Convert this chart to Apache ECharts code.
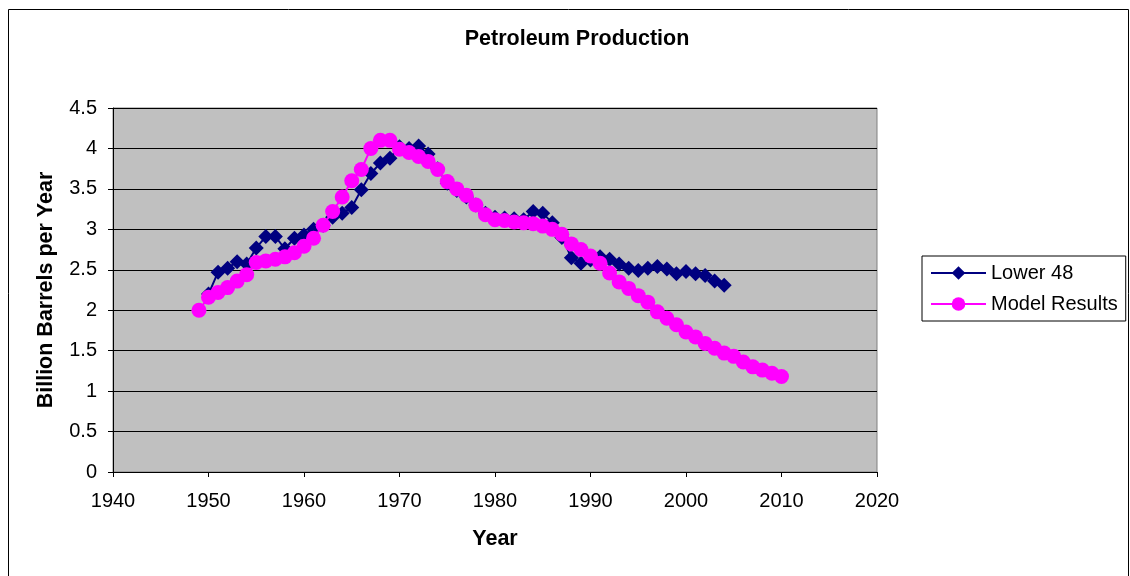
<!DOCTYPE html>
<html>
<head>
<meta charset="utf-8">
<script src="https://cdn.jsdelivr.net/npm/echarts@6/dist/echarts.min.js"></script>
<style>
html,body{margin:0;padding:0;background:#fff;}
#chart{width:1130px;height:576px;}
</style>
</head>
<body>
<div id="chart"></div>
<script>
const lower48Start = 1950;
const lower48Values = [
  2.2, 2.47, 2.52, 2.6, 2.57, 2.77, 2.91, 2.91, 2.76, 2.89,
  2.93, 3.0, 3.05, 3.15, 3.2, 3.27, 3.49, 3.69, 3.82, 3.88,
  4.02, 4.0, 4.03, 3.93, 3.75, 3.57, 3.48, 3.4, 3.3, 3.2,
  3.15, 3.14, 3.13, 3.12, 3.22, 3.2, 3.08, 2.9, 2.65, 2.58,
  2.62, 2.66, 2.63, 2.57, 2.52, 2.49, 2.52, 2.54, 2.51, 2.45,
  2.48, 2.45, 2.43, 2.36, 2.31
];
const modelStart = 1949;
const modelValues = [
  2.0,
  2.16, 2.22, 2.28, 2.36, 2.44, 2.59, 2.61, 2.63, 2.66, 2.71,
  2.79, 2.89, 3.05, 3.22, 3.4, 3.6, 3.74, 4.0, 4.1, 4.1,
  3.99, 3.95, 3.9, 3.84, 3.74, 3.59, 3.5, 3.42, 3.3, 3.18,
  3.12, 3.11, 3.09, 3.08, 3.07, 3.04, 3.0, 2.94, 2.82, 2.75,
  2.67, 2.58, 2.46, 2.35, 2.27, 2.18, 2.1, 1.98, 1.9, 1.82,
  1.73, 1.67, 1.59, 1.53, 1.47, 1.43, 1.36, 1.3, 1.26, 1.22,
  1.18
];
const xTicks = { min: 1940, max: 2020, step: 10 };
const yTicks = { min: 0, max: 4.5, step: 0.5 };

const toPairs = (start, vals) => vals.map((v, i) => [start + i, v]);
const FONT = 'Arial, "Liberation Sans", sans-serif';

const chart = echarts.init(document.getElementById('chart'), null, { renderer: 'canvas' });
chart.setOption({
  animation: false,
  backgroundColor: '#ffffff',
  graphic: [{
    type: 'rect', left: 6, top: 7, shape: { width: 1120, height: 580 },
    style: { fill: 'none', stroke: '#000', lineWidth: 1 }, silent: true, z: -1
  }],
  title: {
    text: 'Petroleum Production', left: 572, top: 23, textAlign: 'center',
    textStyle: { fontFamily: FONT, fontWeight: 'bold', fontSize: 21.5, color: '#000' }
  },
  grid: {
    left: 113, top: 108, width: 764, height: 364, show: true,
    backgroundColor: '#C0C0C0', borderColor: '#808080', borderWidth: 1
  },
  legend: {
    orient: 'vertical', left: 922, top: 256, padding: [7, 8, 7, 8], itemGap: 11,
    itemWidth: 55, itemHeight: 17, backgroundColor: '#fff', borderColor: '#000', borderWidth: 1,
    textStyle: { fontFamily: FONT, fontSize: 20, lineHeight: 20, color: '#000' },
    data: ['Lower 48', 'Model Results']
  },
  xAxis: {
    type: 'value', min: xTicks.min, max: xTicks.max, interval: xTicks.step,
    name: 'Year', nameLocation: 'middle', nameGap: 56,
    nameTextStyle: { fontFamily: FONT, fontWeight: 'bold', fontSize: 21.5, color: '#000' },
    axisLine: { show: true, onZero: false, lineStyle: { color: '#000', width: 1 } },
    axisTick: { show: true, length: 5, lineStyle: { color: '#000' } },
    axisLabel: { fontFamily: FONT, fontSize: 20, color: '#000', margin: 19, formatter: v => String(v) },
    splitLine: { show: false }
  },
  yAxis: {
    type: 'value', min: yTicks.min, max: yTicks.max, interval: yTicks.step,
    name: 'Billion Barrels per Year', nameLocation: 'middle', nameGap: 56, nameRotate: 90,
    nameTextStyle: { fontFamily: FONT, fontWeight: 'bold', fontSize: 21.5, color: '#000' },
    axisLine: { show: true, lineStyle: { color: '#000', width: 1 } },
    axisTick: { show: true, length: 5, lineStyle: { color: '#000' } },
    axisLabel: { fontFamily: FONT, fontSize: 20, color: '#000', margin: 16 },
    splitLine: { show: true, lineStyle: { color: '#000', width: 1 } }
  },
  series: [
    {
      name: 'Lower 48', type: 'line', data: toPairs(lower48Start, lower48Values),
      symbol: 'diamond', symbolSize: 15, showAllSymbol: true,
      lineStyle: { color: '#000080', width: 2 },
      itemStyle: { color: '#000080', borderWidth: 0 }, z: 2
    },
    {
      name: 'Model Results', type: 'line', data: toPairs(modelStart, modelValues),
      symbol: 'circle', symbolSize: 15, showAllSymbol: true,
      lineStyle: { color: '#FF00FF', width: 2 },
      itemStyle: { color: '#FF00FF', borderWidth: 0 }, z: 3
    }
  ]
});
</script>
</body>
</html>
